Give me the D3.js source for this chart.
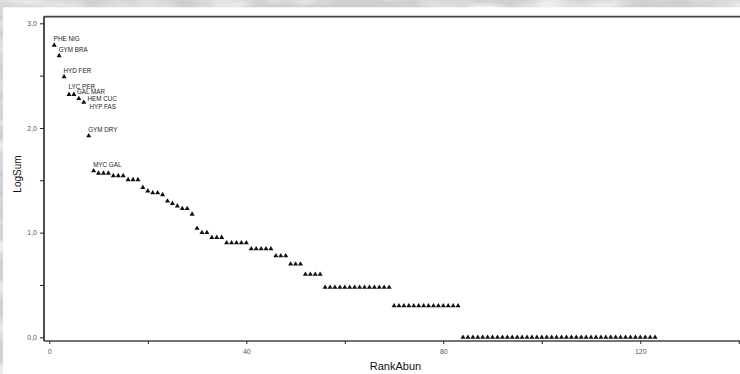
<!DOCTYPE html>
<html>
<head>
<meta charset="utf-8">
<script src="https://cdn.jsdelivr.net/npm/d3@7"></script>
<style>
  html, body { margin: 0; padding: 0; background: #d2d1d5; }
  svg { display: block; }
</style>
</head>
<body>
<div id="chart"></div>
<script>
// Species labels for the first nine ranks
const labels = ['PHE NIG', 'GYM BRA', 'HYD FER', 'LYC PER', 'GAL MAR', 'HEM CUC', 'HYP FAS', 'GYM DRY', 'MYC GAL'];

// LogSum per rank (rank 1..123)
const logSum = [
  2.79, 2.69, 2.49, 2.32, 2.32, 2.28, 2.245, 1.925, 1.59,
  1.568, 1.568, 1.568, 1.544, 1.544, 1.544, 1.505, 1.505, 1.505,
  1.431, 1.398, 1.38, 1.38, 1.362, 1.301, 1.279, 1.255, 1.23, 1.23, 1.176,
  1.041, 1.0, 1.0, 0.954, 0.954, 0.954,
  0.903, 0.903, 0.903, 0.903, 0.903,
  0.845, 0.845, 0.845, 0.845, 0.845,
  0.778, 0.778, 0.778, 0.699, 0.699, 0.699,
  0.602, 0.602, 0.602, 0.602,
  0.477, 0.477, 0.477, 0.477, 0.477, 0.477, 0.477, 0.477, 0.477, 0.477, 0.477, 0.477, 0.477, 0.477,
  0.301, 0.301, 0.301, 0.301, 0.301, 0.301, 0.301, 0.301, 0.301, 0.301, 0.301, 0.301, 0.301, 0.301,
  0, 0, 0, 0, 0, 0, 0, 0, 0, 0, 0, 0, 0, 0, 0, 0, 0, 0, 0, 0,
  0, 0, 0, 0, 0, 0, 0, 0, 0, 0, 0, 0, 0, 0, 0, 0, 0, 0, 0, 0
];

const xMajorTicks = [0, 40, 80, 120];
const xMinorTicks = [20, 60, 100, 140];
const yMajorTicks = [0, 1, 2, 3];
const yMinorTicks = [0.5, 1.5, 2.5];
const yTickText = ['0,0', '1,0', '2,0', '3,0'];

// label nudges (px) where the original moved a label off its point
const labelNudge = {
  'LYC PER': [-0.5, -5.5],
  'GAL MAR': [3, -0.3],
  'HEM CUC': [8.7, 2.7],
  'HYP FAS': [5.7, 6.7]
};

const W = 740, H = 374;
const frame = { left: 44, top: 16.5, bottom: 341, right: 742 };

const svg = d3.select('#chart').append('svg')
  .attr('width', W)
  .attr('height', H);

// Textured backdrop
const defs = svg.append('defs');
const tex = defs.append('filter').attr('id', 'tex').attr('x', 0).attr('y', 0).attr('width', 1).attr('height', 1);
tex.append('feTurbulence').attr('type', 'fractalNoise').attr('baseFrequency', '0.015 0.05').attr('numOctaves', 3).attr('seed', 7);
tex.append('feColorMatrix').attr('type', 'matrix')
  .attr('values', '0 0 0 0 0.96  0 0 0 0 0.96  0 0 0 0 0.97  2.2 0 0 0 -0.95');

svg.append('rect').attr('width', W).attr('height', H).attr('fill', '#cfced3');
svg.append('rect').attr('width', W).attr('height', H).attr('filter', 'url(#tex)');

// White chart panel
svg.append('rect')
  .attr('x', 3).attr('y', 7.3)
  .attr('width', W - 3).attr('height', H - 7.3)
  .attr('fill', '#fff');

const x = d3.scaleLinear().domain([0, 140]).range([49.3, 738.8]);
const y = d3.scaleLinear().domain([0, 3]).range([337.3, 23.3]);

const axisColor = '#444';
const tickFont = 'Liberation Sans, Arial, sans-serif';

// Frame: top, left, bottom
const frameG = svg.append('g').attr('fill', 'none');
frameG.append('line').attr('x1', frame.left).attr('x2', frame.right)
  .attr('y1', frame.top + 1).attr('y2', frame.top + 1).attr('stroke', '#bbb').attr('stroke-width', 1);
frameG.append('line').attr('x1', frame.left).attr('x2', frame.right)
  .attr('y1', frame.top).attr('y2', frame.top).attr('stroke', axisColor).attr('stroke-width', 1.6);
frameG.append('line').attr('x1', frame.left).attr('x2', frame.left)
  .attr('y1', frame.top).attr('y2', frame.bottom).attr('stroke', '#222').attr('stroke-width', 1.6);
frameG.append('line').attr('x1', frame.left).attr('x2', frame.right)
  .attr('y1', frame.bottom).attr('y2', frame.bottom).attr('stroke', axisColor).attr('stroke-width', 1.6);

// Y axis ticks
const yAxis = d3.axisLeft(y)
  .tickValues(yMajorTicks.concat(yMinorTicks))
  .tickSize(4)
  .tickPadding(3)
  .tickFormat((d) => {
    const i = yMajorTicks.indexOf(d);
    return i >= 0 ? yTickText[i] : '';
  });
const yG = svg.append('g').attr('transform', `translate(${frame.left},0)`).call(yAxis);
yG.select('.domain').remove();
yG.selectAll('line').attr('stroke', '#222').attr('stroke-width', 1);
yG.selectAll('text').attr('fill', '#555').attr('font-size', '7px').attr('font-family', tickFont);

// X axis ticks
const xAxis = d3.axisBottom(x)
  .tickValues(xMajorTicks.concat(xMinorTicks))
  .tickSize(3)
  .tickPadding(5)
  .tickFormat((d) => (xMajorTicks.includes(d) ? String(d) : ''));
const xG = svg.append('g').attr('transform', `translate(0,${frame.bottom})`).call(xAxis);
xG.select('.domain').remove();
xG.selectAll('line').attr('stroke', '#222').attr('stroke-width', 1);
xG.selectAll('text').attr('fill', '#555').attr('font-size', '7px').attr('font-family', tickFont);

// Axis titles
svg.append('text')
  .attr('x', 395.5).attr('y', 370)
  .attr('text-anchor', 'middle')
  .attr('font-family', tickFont).attr('font-size', '11px').attr('fill', '#111')
  .text('RankAbun');

svg.append('text')
  .attr('transform', 'translate(20.5,174) rotate(-90)')
  .attr('text-anchor', 'middle')
  .attr('font-family', tickFont).attr('font-size', '10px').attr('fill', '#111')
  .text('LogSum');

// Points
const points = logSum.map((v, i) => ({ rank: i + 1, value: v, label: labels[i] }));
const tri = d3.symbol().type(d3.symbolTriangle).size(11);

svg.append('g')
  .selectAll('path')
  .data(points)
  .join('path')
  .attr('d', tri)
  .attr('transform', (d) => `translate(${x(d.rank)},${y(d.value)})`)
  .attr('fill', '#111');

// Point labels
svg.append('g')
  .selectAll('text')
  .data(points.filter((d) => d.label))
  .join('text')
  .attr('x', (d) => x(d.rank) + (labelNudge[d.label] ? labelNudge[d.label][0] : -0.5))
  .attr('y', (d) => y(d.value) + (labelNudge[d.label] ? labelNudge[d.label][1] : -4))
  .attr('font-family', tickFont)
  .attr('font-size', '6.3px')
  .attr('fill', '#222')
  .text((d) => d.label);
</script>
</body>
</html>
